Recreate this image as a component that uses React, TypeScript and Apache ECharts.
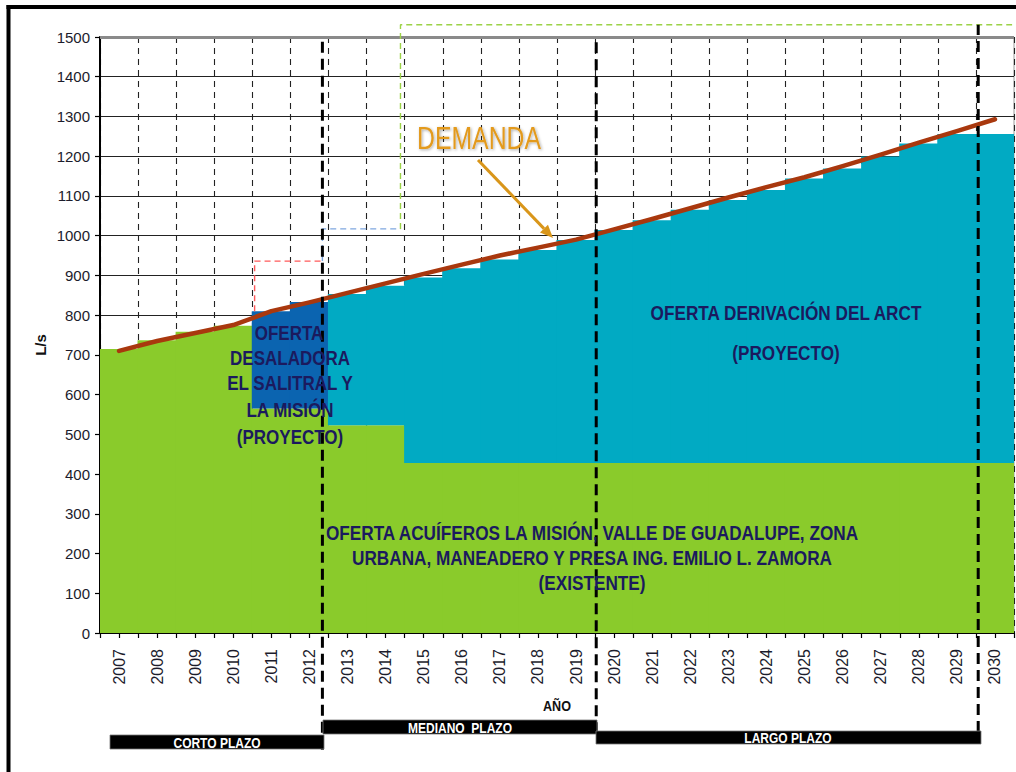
import React, { useEffect, useRef } from "react";
import * as echarts from "echarts";

// ---------- data ----------
const years = [
  "2007", "2008", "2009", "2010", "2011", "2012", "2013", "2014", "2015", "2016", "2017", "2018",
  "2019", "2020", "2021", "2022", "2023", "2024", "2025", "2026", "2027", "2028", "2029", "2030",
];
// Oferta acuíferos (existente), L/s
const existente = [715, 737, 758, 773, 565, 565, 523, 523, 428, 428, 428, 428, 428, 428, 428, 428, 428, 428, 428, 428, 428, 428, 428, 428];
// Oferta desaladora El Salitral y La Misión (proyecto)
const desaladora = [null, null, null, null, 245, 268, null, null, null, null, null, null, null, null, null, null, null, null, null, null, null, null, null, null];
// Oferta derivación del ARCT (proyecto)
const arct = [null, null, null, null, null, null, 330, 351, 467, 490, 512, 536, 561, 586, 611, 637, 662, 687, 716, 741, 771, 804, 828, 828];
// Demanda, L/s
const demanda = [710, 735, 755, 775, 810, 832, 856, 880, 904, 927, 950, 970, 990, 1016, 1042, 1069, 1096, 1122, 1147, 1175, 1204, 1234, 1263, 1293];

// capacity step lines [year, L/s]
const capRojo = [[2010.56, 810], [2010.56, 936], [2012.34, 936]];
const capAzul = [[2012.34, 936], [2012.34, 1017], [2014.39, 1017]];
const capVerde = [[2014.39, 1017], [2014.39, 1531], [2030.45, 1531]];

// plazo dividers [year, bottom L/s, top L/s]
const plazoBreaks = [
  [2012.34, -294, 1500],
  [2019.53, -252, 1500],
  [2029.56, -249, 1531],
];

const yTicks = { min: 0, max: 1500, interval: 100 };

const SANS = "'Liberation Sans',Arial,Helvetica,sans-serif";
const NAVY = "#1b1a5e";
const NARROW_SCALE = 0.8;

function txt(text: string, x: number, y: number, size: number, fill: string, weight = "bold", extra: any = {}) {
  return {
    type: "text",
    x,
    y,
    z: 100,
    scaleX: NARROW_SCALE,
    silent: true,
    ...extra,
    style: {
      text,
      x: 0,
      y: 0,
      fill,
      fontSize: size,
      fontFamily: SANS,
      fontWeight: weight,
      align: "center",
      verticalAlign: "middle",
      ...(extra.style || {}),
    },
  };
}

function plazo(label: string, x1: number, x2: number, y1: number, y2: number, cx: number) {
  return [
    {
      type: "rect",
      z: 90,
      silent: true,
      shape: { x: x1, y: y1, width: x2 - x1, height: y2 - y1 },
      style: { fill: "#000", stroke: "#777", lineWidth: 0.8 },
    },
    txt(label, cx, (y1 + y2) / 2 + 1, 15, "#fff", "bold"),
  ];
}

export default function App() {
  const ref = useRef<HTMLDivElement>(null);

  useEffect(() => {
    if (!ref.current) return;
    const chart = echarts.init(ref.current, undefined, { renderer: "svg" });

    // arrow geometry
    const a0 = [478, 160];
    const tip = [553, 238];
    const dx = tip[0] - a0[0];
    const dy = tip[1] - a0[1];
    const len = Math.hypot(dx, dy);
    const ux = dx / len;
    const uy = dy / len;
    const hl = 13;
    const hw = 5.5;
    const bx = tip[0] - ux * hl;
    const by = tip[1] - uy * hl;

    const big = { scaleX: 0.86 };
    const mid = { scaleX: 0.85 };

    const graphic: any[] = [
      // frame (left and top)
      { type: "line", z: 100, silent: true, shape: { x1: 8.5, y1: 5, x2: 8.5, y2: 772 }, style: { stroke: "#000", lineWidth: 4 } },
      { type: "line", z: 100, silent: true, shape: { x1: 6.5, y1: 7, x2: 1016, y2: 7 }, style: { stroke: "#000", lineWidth: 4 } },
      // axis titles
      txt("L/s", 40, 345, 15, "#111", "bold", { rotation: Math.PI / 2, scaleX: 1 }),
      txt("AÑO", 557, 706, 14, "#111", "bold", { scaleX: 0.9 }),
      // DEMANDA label and arrow
      txt("DEMANDA", 479, 139, 31, "#E39A1E", "normal", {
        style: { textShadowColor: "rgba(0,0,0,0.35)", textShadowBlur: 3, textShadowOffsetX: 1, textShadowOffsetY: 1 },
      }),
      {
        type: "line",
        z: 100,
        silent: true,
        shape: { x1: a0[0], y1: a0[1], x2: bx, y2: by },
        style: { stroke: "#D9961A", lineWidth: 3 },
      },
      {
        type: "polygon",
        z: 100,
        silent: true,
        shape: {
          points: [
            [tip[0], tip[1]],
            [bx - uy * hw, by + ux * hw],
            [bx + uy * hw, by - ux * hw],
          ],
        },
        style: { fill: "#D9961A" },
      },
      // region labels
      txt("OFERTA DERIVACIÓN DEL ARCT", 786, 313, 20, NAVY, "bold", big),
      txt("(PROYECTO)", 786, 353, 20, NAVY, "bold", big),
      txt("OFERTA ACUÍFEROS LA MISIÓN, VALLE DE GUADALUPE, ZONA", 592, 533, 20, NAVY, "bold", big),
      txt("URBANA, MANEADERO Y PRESA ING. EMILIO L. ZAMORA", 592, 558, 20, NAVY, "bold", big),
      txt("(EXISTENTE)", 592, 583, 20, NAVY, "bold", big),
      txt("OFERTA", 289, 333, 20, NAVY, "bold", mid),
      txt("DESALADORA", 290, 358, 20, NAVY, "bold", mid),
      txt("EL SALITRAL Y", 290, 383, 20, NAVY, "bold", mid),
      txt("LA MISIÓN", 290, 410, 20, NAVY, "bold", mid),
      txt("(PROYECTO)", 290, 437, 20, NAVY, "bold", mid),
      // plazo bars
      ...plazo("CORTO PLAZO", 110, 324, 735, 749, 217),
      ...plazo("MEDIANO  PLAZO", 323, 597, 720, 734, 460),
      ...plazo("LARGO PLAZO", 596, 981, 731, 744, 788),
    ];

    const stepLine = (name: string, data: number[][], color: string) => ({
      name,
      type: "line",
      xAxisIndex: 1,
      data,
      symbol: "none",
      clip: false,
      silent: true,
      z: 6,
      lineStyle: { color, width: 1.4, type: [6, 4] },
    });

    const barStyle = (c: string) => ({ color: c, borderColor: c, borderWidth: 0 });
    const BAR_W = 39.2; // slightly wider than the band so adjacent columns join without seams

    const option: any = {
      animation: false,
      backgroundColor: "#fff",
      grid: {
        left: 100,
        right: 2,
        top: 37,
        bottom: 139,
        show: true,
        borderColor: "#9a9a9a",
        borderWidth: 1,
        backgroundColor: "transparent",
      },
      xAxis: [
        {
          type: "category",
          data: years,
          boundaryGap: true,
          position: "bottom",
          axisLine: { show: true, lineStyle: { color: "#000", width: 2 } },
          axisTick: { show: false },
          axisLabel: {
            rotate: 90,
            margin: 16,
            fontSize: 16,
            color: "#1c1c2c",
            fontFamily: SANS,
            interval: 0,
          },
          splitLine: { show: true, interval: 0, lineStyle: { color: "#222", width: 1.1, type: [6, 5] } },
        },
        {
          type: "value",
          min: 2006.5,
          max: 2030.5,
          interval: 0.5,
          position: "bottom",
          axisLine: { show: false },
          axisTick: { show: true, length: 5, lineStyle: { color: "#000", width: 1.2 } },
          axisLabel: { show: false },
          splitLine: { show: false },
        },
      ],
      yAxis: {
        type: "value",
        min: yTicks.min,
        max: yTicks.max,
        interval: yTicks.interval,
        axisLine: { show: true, lineStyle: { color: "#000", width: 2 } },
        axisTick: { show: true, length: 5, lineStyle: { color: "#000", width: 1.2 } },
        axisLabel: {
          fontSize: 15,
          color: "#1c1c2c",
          margin: 10,
          fontFamily: SANS,
          formatter: (v: number) => String(v),
        },
        splitLine: { show: true, lineStyle: { color: "#222", width: 1.1 } },
      },
      series: [
        {
          name: "Existente",
          type: "bar",
          stack: "oferta",
          data: existente,
          barWidth: BAR_W,
          itemStyle: barStyle("#8ACB2B"),
          z: 2,
        },
        {
          name: "Desaladora",
          type: "bar",
          stack: "oferta",
          data: desaladora,
          barWidth: BAR_W,
          itemStyle: barStyle("#0B64B0"),
          z: 2,
        },
        {
          name: "ARCT",
          type: "bar",
          stack: "oferta",
          data: arct,
          barWidth: BAR_W,
          itemStyle: barStyle("#01AAC3"),
          z: 2,
        },
        stepLine("cap1", capRojo, "#FF5A5A"),
        stepLine("cap2", capAzul, "#7FA7DF"),
        stepLine("cap3", capVerde, "#9CD247"),
        {
          name: "Demanda",
          type: "line",
          data: demanda,
          symbol: "none",
          z: 8,
          lineStyle: { color: "#A9380E", width: 4.5, cap: "round", join: "round" },
          markLine: {
            silent: true,
            symbol: "none",
            label: { show: false },
            lineStyle: { color: "#8a8a8a", width: 3, type: "solid" },
            data: [{ yAxis: 1500 }],
          },
        },
        ...plazoBreaks.map((b, i) => ({
          name: "plazo" + i,
          type: "line",
          xAxisIndex: 1,
          data: [
            [b[0], b[1]],
            [b[0], b[2]],
          ],
          symbol: "none",
          clip: false,
          silent: true,
          z: 20,
          lineStyle: { color: "#000", width: 3, type: [11, 6] },
        })),
      ],
      graphic,
    };

    chart.setOption(option);
    return () => chart.dispose();
  }, []);

  return (
    <div
      ref={ref}
      style={{ position: "fixed", left: 0, top: 0, width: 1016, height: 772, background: "#fff" }}
    />
  );
}
